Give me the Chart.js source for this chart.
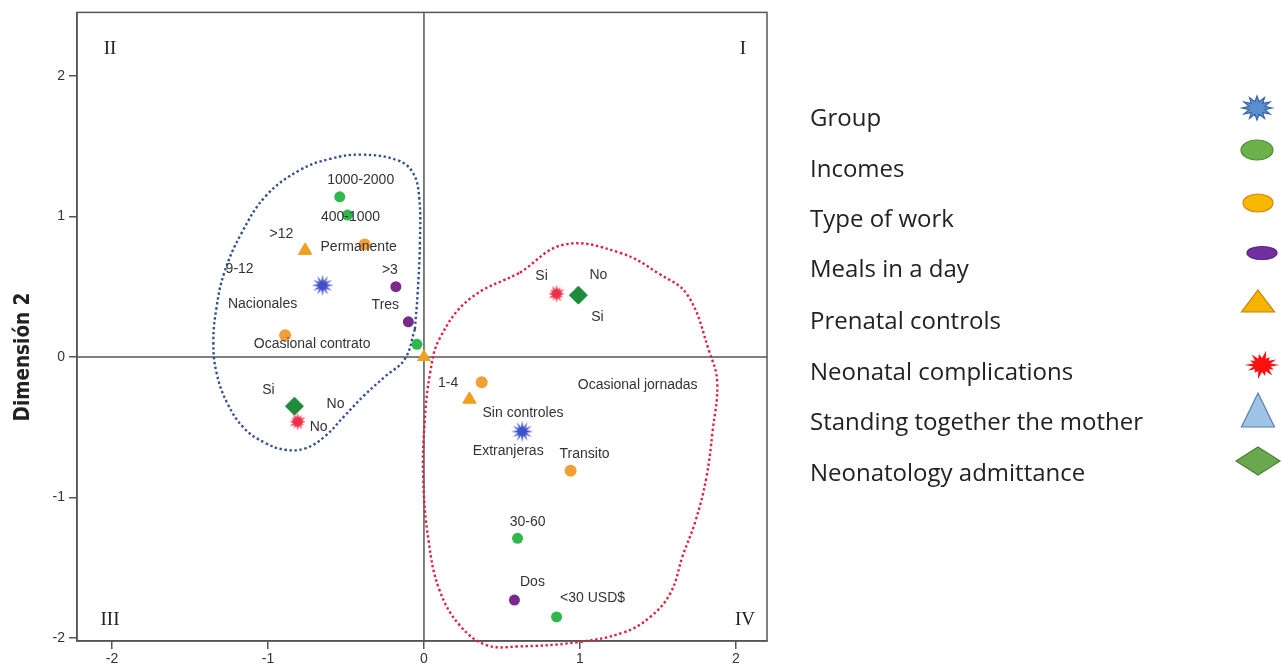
<!DOCTYPE html>
<html><head><meta charset="utf-8">
<script src="https://cdn.jsdelivr.net/npm/chart.js@4"></script>
<style>html,body{margin:0;padding:0;background:#fff;}#wrap{position:relative;width:1282px;height:671px;}</style>
</head><body><div id="wrap"><canvas id="c" width="1282" height="671"></canvas></div>
<script>
// ---------- data ----------
const xTicks = [-2, -1, 0, 1, 2];
const yTicks = [-2, -1, 0, 1, 2];
const yTitle = 'Dimensión 2';
const quadrantLabels = ['II', 'I', 'III', 'IV'];
const legendNames = ['Group', 'Incomes', 'Type of work', 'Meals in a day', 'Prenatal controls',
  'Neonatal complications', 'Standing together the mother', 'Neonatology admittance'];

const groupLabels = ['Nacionales', 'Extranjeras'];
const groupX = [-0.65, 0.63];
const groupY = [0.51, -0.53];

const incomesLabels = ['1000-2000', '400-1000', '', '30-60', '<30 USD$'];
const incomesX = [-0.54, -0.49, -0.045, 0.60, 0.85];
const incomesY = [1.14, 1.01, 0.09, -1.29, -1.85];

const workLabels = ['Permanente', 'Ocasional contrato', 'Ocasional jornadas', 'Transito'];
const workX = [-0.38, -0.89, 0.37, 0.94];
const workY = [0.80, 0.155, -0.18, -0.81];

const mealsLabels = ['>3', 'Tres', 'Dos'];
const mealsX = [-0.18, -0.10, 0.58];
const mealsY = [0.50, 0.25, -1.73];

const prenatalLabels = ['>12', '9-12', '1-4', 'Sin controles', ''];
const prenatalX = [-0.76, -0.765, 0.29, 0.295, 0.0];
const prenatalY = [0.76, 0.755, -0.30, -0.305, 0.0];

const complicLabels = ['Si', 'No'];
const complicX = [0.85, -0.81];
const complicY = [0.45, -0.46];

const standingLabels = ['No', 'Si'];
const standingX = [0.99, -0.83];
const standingY = [0.44, -0.35];

const admitLabels = ['Si', 'No'];
const admitX = [0.99, -0.83];
const admitY = [0.44, -0.35];

// outlines
const blueOutlineX = [-0.058,-0.122,-0.25,-0.38,-0.51,-0.635,-0.76,-0.89,-1.02,-1.15,-1.26,-1.33,-1.35,-1.33,-1.28,-1.17,-1.01,-0.795,-0.60,-0.40,-0.17,-0.07,-0.03,-0.026,-0.04,-0.058];
const blueOutlineY = [0.198,-0.014,-0.14,-0.27,-0.42,-0.565,-0.65,-0.66,-0.61,-0.51,-0.33,-0.11,0.11,0.35,0.60,0.88,1.15,1.33,1.41,1.44,1.40,1.31,1.13,0.81,0.46,0.198];
const redOutlineX = [0.615,0.90,1.26,1.51,1.69,1.83,1.88,1.85,1.81,1.74,1.66,1.58,1.45,1.28,0.98,0.60,0.40,0.23,0.10,0.03,-0.005,0.005,0.04,0.10,0.29,0.615];
const redOutlineY = [0.60,0.80,0.74,0.59,0.44,0.035,-0.18,-0.53,-0.86,-1.17,-1.41,-1.68,-1.85,-1.96,-2.03,-2.06,-2.05,-1.91,-1.66,-1.31,-0.86,-0.46,-0.11,0.13,0.41,0.60];

// ---------- label placement (pixel offsets from each mark) ----------
const labelOffsets = {
  group: [[-60, 19], [-14, 20]],
  incomes: [[21, -17], [3, 2], [0, 0], [10, -16], [36, -19]],
  work: [[-6, 3], [27, 9], [156, 3], [14, -17]],
  meals: [[-6, -17], [-23, -17], [18, -18]],
  prenatal: [[-24, -16], [-65, 18], [-21, -16], [53, 13], [0, 0]],
  complic: [[-15, -18], [21, 6]],
  standing: [[20, -20], [-26, -16]],
  admit: [[19, 22], [41, -2]]
};

// ---------- marker images ----------
function burst(fill, stroke, spikes, rOut, rIn, jitter) {
  const s = Math.ceil(rOut * 2 + 4);
  const cv = document.createElement('canvas');
  cv.width = s; cv.height = s;
  const g = cv.getContext('2d');
  g.translate(s / 2, s / 2);
  g.beginPath();
  for (let i = 0; i < spikes * 2; i++) {
    const a = Math.PI * i / spikes - Math.PI / 2;
    let r = i % 2 === 0 ? rOut : rIn;
    if (jitter && i % 2 === 0) r *= jitter[(i / 2) % jitter.length];
    g.lineTo(Math.cos(a) * r, Math.sin(a) * r);
  }
  g.closePath();
  g.fillStyle = fill; g.fill();
  if (stroke) { g.strokeStyle = stroke; g.lineWidth = 1; g.stroke(); }
  return cv;
}
const blueStar = burst('#3f50c8', null, 12, 11, 4.5);
const redStar = burst('#ee3048', null, 12, 9, 4.5, [1, 0.85, 1, 0.9, 0.8, 1]);

function pts(xs, ys) { return xs.map((v, i) => ({ x: v, y: ys[i] })); }

const datasets = [
  { key: 'blueOut', data: pts(blueOutlineX, blueOutlineY), showLine: true, tension: 0.4, pointRadius: 0,
    borderColor: '#34508f', borderWidth: 2.4, borderDash: [2.4, 2.6], fill: false, order: 20 },
  { key: 'redOut', data: pts(redOutlineX, redOutlineY), showLine: true, tension: 0.4, pointRadius: 0,
    borderColor: '#e0203c', borderWidth: 2.4, borderDash: [2.4, 2.6], fill: false, order: 20, clip: false },
  { key: 'standing', labels: standingLabels, data: pts(standingX, standingY), pointStyle: 'triangle',
    pointRadius: 5, backgroundColor: '#9dc3e6', borderColor: '#6a8fb5', borderWidth: 1, order: 9 },
  { key: 'admit', labels: admitLabels, data: pts(admitX, admitY), pointStyle: 'rectRot',
    pointRadius: 9, backgroundColor: '#1f8a3c', borderColor: '#1f8a3c', borderWidth: 1, order: 8 },
  { key: 'complic', labels: complicLabels, data: pts(complicX, complicY), pointStyle: redStar, order: 7 },
  { key: 'incomes', labels: incomesLabels, data: pts(incomesX, incomesY), pointStyle: 'circle',
    pointRadius: 5.5, backgroundColor: '#2fb84c', borderColor: '#2fb84c', borderWidth: 0, order: 6 },
  { key: 'work', labels: workLabels, data: pts(workX, workY), pointStyle: 'circle',
    pointRadius: 6, backgroundColor: '#f2a035', borderColor: '#f2a035', borderWidth: 0, order: 5 },
  { key: 'meals', labels: mealsLabels, data: pts(mealsX, mealsY), pointStyle: 'circle',
    pointRadius: 5.5, backgroundColor: '#7b2a8c', borderColor: '#7b2a8c', borderWidth: 0, order: 4 },
  { key: 'prenatal', labels: prenatalLabels, data: pts(prenatalX, prenatalY), pointStyle: 'triangle',
    pointRadius: 8, backgroundColor: '#f0a020', borderColor: '#f0a020', borderWidth: 0, order: 3 },
  { key: 'group', labels: groupLabels, data: pts(groupX, groupY), pointStyle: blueStar, order: 2 }
];

// ---------- legend symbols ----------
function legendSymbol(g, i, cx, cy) {
  g.save();
  g.lineWidth = 1.2;
  const ell = (rx, ry, f, s) => { g.beginPath(); g.ellipse(cx, cy, rx, ry, 0, 0, Math.PI * 2); g.fillStyle = f; g.fill(); g.strokeStyle = s; g.stroke(); };
  const star = (n, ro, ri, f, s, jit) => {
    g.beginPath();
    for (let k = 0; k < n * 2; k++) {
      const a = Math.PI * k / n;
      let r = k % 2 === 0 ? ro : ri;
      if (jit && k % 2 === 0) r *= jit[(k / 2) % jit.length];
      g.lineTo(cx + Math.cos(a) * r * 1.25, cy + Math.sin(a) * r);
    }
    g.closePath(); g.fillStyle = f; g.fill(); if (s) { g.strokeStyle = s; g.stroke(); }
  };
  const tri = (w, h, f, s) => { g.beginPath(); g.moveTo(cx, cy - h / 2); g.lineTo(cx + w / 2, cy + h / 2); g.lineTo(cx - w / 2, cy + h / 2); g.closePath(); g.fillStyle = f; g.fill(); g.strokeStyle = s; g.stroke(); };
  if (i === 0) star(12, 12, 6.5, '#5b8fd0', '#3a66a8');
  if (i === 1) ell(16, 10, '#6cb24c', '#4f8a32');
  if (i === 2) ell(15, 9, '#f7b800', '#d08a10');
  if (i === 3) ell(15, 6.5, '#7030a0', '#5a2080');
  if (i === 4) tri(33, 22, '#f6b400', '#b8860b');
  if (i === 5) star(14, 14, 7, '#ff1010', null, [1, 0.75, 0.95, 0.8, 1.05, 0.7, 0.9]);
  if (i === 6) tri(33, 34, '#9dc3e6', '#5b7fa8');
  if (i === 7) { g.beginPath(); g.moveTo(cx, cy - 14); g.lineTo(cx + 22, cy); g.lineTo(cx, cy + 14); g.lineTo(cx - 22, cy); g.closePath(); g.fillStyle = '#6aa84f'; g.fill(); g.strokeStyle = '#507e32'; g.stroke(); }
  g.restore();
}
const legendBaselineY = [126, 177, 227, 277, 329, 380, 430, 481];
const legendSymPos = [[1257, 108], [1257, 150], [1258, 203], [1262, 253], [1258, 301], [1262, 365], [1258, 410], [1258, 461]];

const figPlugin = {
  id: 'fig',
  beforeDatasetsDraw(chart) {
    const { ctx, chartArea: a, scales: { x, y } } = chart;
    ctx.save();
    ctx.strokeStyle = '#555'; ctx.lineWidth = 1.5;
    const x0 = x.getPixelForValue(0), y0 = y.getPixelForValue(0);
    ctx.beginPath();
    ctx.moveTo(x0, a.top); ctx.lineTo(x0, a.bottom);
    ctx.moveTo(a.left, y0); ctx.lineTo(a.right, y0);
    ctx.stroke();
    ctx.strokeRect(a.left, a.top, a.right - a.left, a.bottom - a.top);
    ctx.fillStyle = '#222'; ctx.font = '19px "Liberation Serif", serif';
    ctx.textAlign = 'center'; ctx.textBaseline = 'middle';
    ctx.fillText(quadrantLabels[0], a.left + 33, a.top + 37);
    ctx.fillText(quadrantLabels[1], a.right - 24, a.top + 37);
    ctx.fillText(quadrantLabels[2], a.left + 33, a.bottom - 21);
    ctx.fillText(quadrantLabels[3], a.right - 22, a.bottom - 21);
    // y axis title
    ctx.save();
    ctx.translate(24, y0);
    ctx.rotate(-Math.PI / 2);
    ctx.font = 'bold 20.5px "Liberation Sans Narrow", "DejaVu Sans Condensed", sans-serif';
    ctx.fillStyle = '#222';
    ctx.fillText(yTitle, 0, 0);
    ctx.restore();
    ctx.restore();
  },
  afterDatasetsDraw(chart) {
    const ctx = chart.ctx;
    ctx.save();
    ctx.font = '14px "Liberation Sans", Arial, sans-serif';
    ctx.fillStyle = '#333'; ctx.textAlign = 'center'; ctx.textBaseline = 'middle';
    chart.data.datasets.forEach((ds, di) => {
      if (!ds.labels) return;
      const meta = chart.getDatasetMeta(di);
      ds.labels.forEach((t, i) => {
        if (!t) return;
        const el = meta.data[i];
        const off = labelOffsets[ds.key][i];
        ctx.fillText(t, el.x + off[0], el.y + off[1]);
      });
    });
    ctx.restore();
  },
  afterDraw(chart) {
    const ctx = chart.ctx;
    ctx.save();
    ctx.font = '24px "Open Sans", sans-serif';
    ctx.fillStyle = '#222'; ctx.textAlign = 'left'; ctx.textBaseline = 'alphabetic';
    legendNames.forEach((n, i) => {
      ctx.fillText(n, 810, legendBaselineY[i]);
      legendSymbol(ctx, i, legendSymPos[i][0], legendSymPos[i][1]);
    });
    ctx.restore();
  }
};

new Chart(document.getElementById('c'), {
  type: 'scatter',
  data: { datasets },
  options: {
    responsive: false, animation: false,
    layout: { padding: { top: 8, right: 515, left: 0, bottom: 0 } },
    plugins: { legend: { display: false }, tooltip: { enabled: false } },
    scales: {
      x: {
        min: -2.224, max: 2.199,
        afterBuildTicks: s => { s.ticks = xTicks.map(v => ({ value: v })); },
        afterFit: s => { s.height = 30; },
        grid: { display: true, drawOnChartArea: false, drawTicks: true, tickLength: 8, color: '#555', lineWidth: 1.5 },
        border: { display: true, color: '#555', width: 1.5 },
        ticks: { color: '#333', font: { family: '"Liberation Sans", Arial, sans-serif', size: 14 }, padding: 2, maxRotation: 0 }
      },
      y: {
        min: -2.021, max: 2.452,
        afterBuildTicks: s => { s.ticks = yTicks.map(v => ({ value: v })); },
        afterFit: s => { s.width = 77; },
        grid: { display: true, drawOnChartArea: false, drawTicks: true, tickLength: 8, color: '#555', lineWidth: 1.5 },
        border: { display: true, color: '#555', width: 1.5 },
        ticks: { color: '#333', font: { family: '"Liberation Sans", Arial, sans-serif', size: 14 }, padding: 4 },
        title: { display: false }
      }
    }
  },
  plugins: [figPlugin]
});
</script></body></html>
